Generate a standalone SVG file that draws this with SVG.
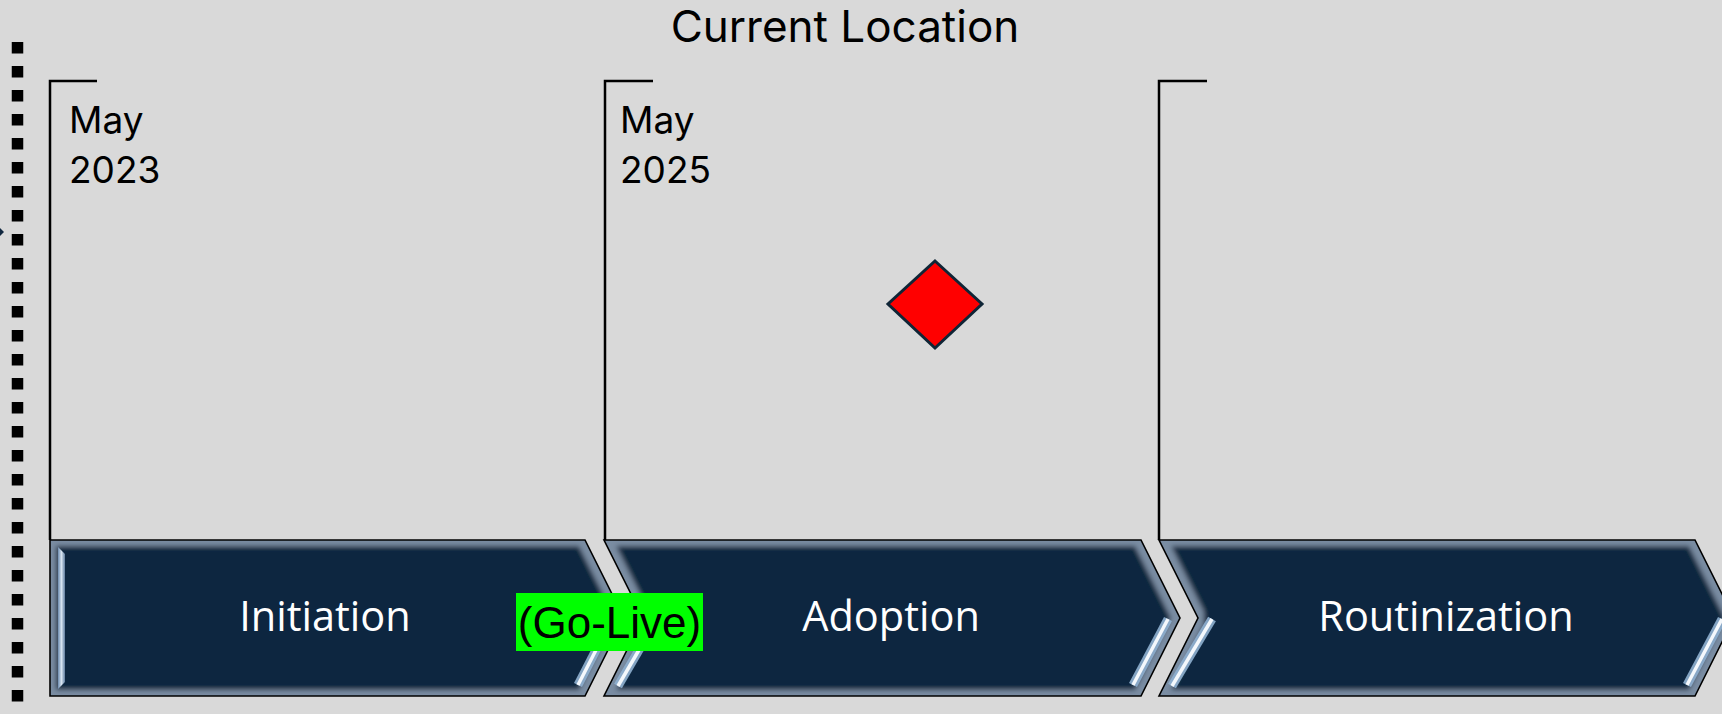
<svg xmlns="http://www.w3.org/2000/svg" width="1722" height="714" viewBox="0 0 1722 714">
<style>
.bracket{fill:none;stroke:#000;stroke-width:2.5}
.chev{fill:#10273F;filter:url(#bevel)}
.outline{fill:none;stroke:#000;stroke-width:1.6;stroke-linejoin:miter}
.lbl{font-family:"Open Sans","Noto Sans",sans-serif;font-size:41.5px;fill:#fff;text-anchor:middle}
.date{font-family:Inter,"Noto Sans",sans-serif;font-size:37px;fill:#000}
.title{font-family:Inter,"Noto Sans",sans-serif;font-size:44px;fill:#000;text-anchor:middle}
.glow{stroke:#8FB0D0;stroke-width:9;stroke-linecap:butt;fill:none;opacity:0.9}
.core{stroke:#F4F8FC;stroke-width:3.5;stroke-linecap:butt;fill:none}
</style>
<defs>
<filter id="bevel" x="-5%" y="-10%" width="110%" height="120%">
<feMorphology in="SourceAlpha" operator="erode" radius="6" result="er"/>
<feGaussianBlur in="er" stdDeviation="2.6" result="bl"/>
<feFlood flood-color="#10273F"/>
<feComposite in2="bl" operator="in" result="inner"/>
<feFlood flood-color="#7A8DA3"/>
<feComposite in2="SourceAlpha" operator="in" result="edge"/>
<feMerge><feMergeNode in="edge"/><feMergeNode in="inner"/></feMerge>
</filter>
<filter id="soft"><feGaussianBlur stdDeviation="0.7"/></filter>
<linearGradient id="vstripe" x1="0" y1="0" x2="1" y2="0">
<stop offset="0" stop-color="#6D8CB0"/><stop offset="0.5" stop-color="#D6E3F0"/><stop offset="1" stop-color="#5E7C9E"/>
</linearGradient>
</defs>
<rect width="1722" height="714" fill="#D9D9D9"/>
<g id="timeline-axis">
<line x1="17.5" y1="42" x2="17.5" y2="714" stroke="#000" stroke-width="11.5" stroke-dasharray="11.5 12.5"/>
<polygon points="0,228 4,232 0,236" fill="#10273F"/>
</g>
<g id="title"><text class="title" x="845" y="42">Current Location</text></g>
<g id="connectors">
<path class="bracket" d="M97,81 H50 V540"/>
<path class="bracket" d="M653,81 H605 V540"/>
<path class="bracket" d="M1207,81 H1159 V540"/>
</g>
<g id="date-2023"><text class="date" x="69" y="133">May</text><text class="date" x="69" y="183">2023</text></g>
<g id="date-2025"><text class="date" x="620" y="133">May</text><text class="date" x="620" y="183">2025</text></g>
<g id="marker"><polygon points="935,261 982,304 935,348 888,304" fill="#FF0000" stroke="#0F2536" stroke-width="3"/></g>
<g id="initiation">
<path class="chev" d="M50,540 H585 L624,618 L585,696 H50 Z"/>
<polygon points="58,547 65,554 65,682 58,689" fill="url(#vstripe)" filter="url(#soft)"/>
<g filter="url(#soft)"><line class="glow" x1="612" y1="619" x2="578" y2="685"/><line class="core" x1="612" y1="619" x2="578" y2="685"/></g>
<path class="outline" d="M50,540 H585 L624,618 L585,696 H50 Z"/>
<text class="lbl" x="325" y="631">Initiation</text>
</g>
<g id="adoption">
<path class="chev" d="M604,540 H1141 L1180,618 L1141,696 H604 L643,618 Z"/>
<g filter="url(#soft)"><line class="glow" x1="657" y1="619" x2="618" y2="686"/><line class="core" x1="657" y1="619" x2="618" y2="686"/></g>
<g filter="url(#soft)"><line class="glow" x1="1168" y1="619" x2="1133" y2="685"/><line class="core" x1="1168" y1="619" x2="1133" y2="685"/></g>
<path class="outline" d="M604,540 H1141 L1180,618 L1141,696 H604 L643,618 Z"/>
<text class="lbl" x="891" y="631">Adoption</text>
</g>
<g id="routinization">
<path class="chev" d="M1159,540 H1695 L1734,618 L1695,696 H1159 L1198,618 Z"/>
<g filter="url(#soft)"><line class="glow" x1="1212" y1="619" x2="1172" y2="686"/><line class="core" x1="1212" y1="619" x2="1172" y2="686"/></g>
<g filter="url(#soft)"><line class="glow" x1="1722" y1="619" x2="1687" y2="685"/><line class="core" x1="1722" y1="619" x2="1687" y2="685"/></g>
<path class="outline" d="M1159,540 H1695 L1734,618 L1695,696 H1159 L1198,618 Z"/>
<text class="lbl" x="1446" y="631">Routinization</text>
</g>
<g id="go-live">
<rect x="516" y="593" width="187" height="58" fill="#00FF00"/>
<text x="609.5" y="638" font-family="'Liberation Sans',Arial,sans-serif" font-size="44" text-anchor="middle" fill="#000">(Go-Live)</text>
</g>
</svg>
